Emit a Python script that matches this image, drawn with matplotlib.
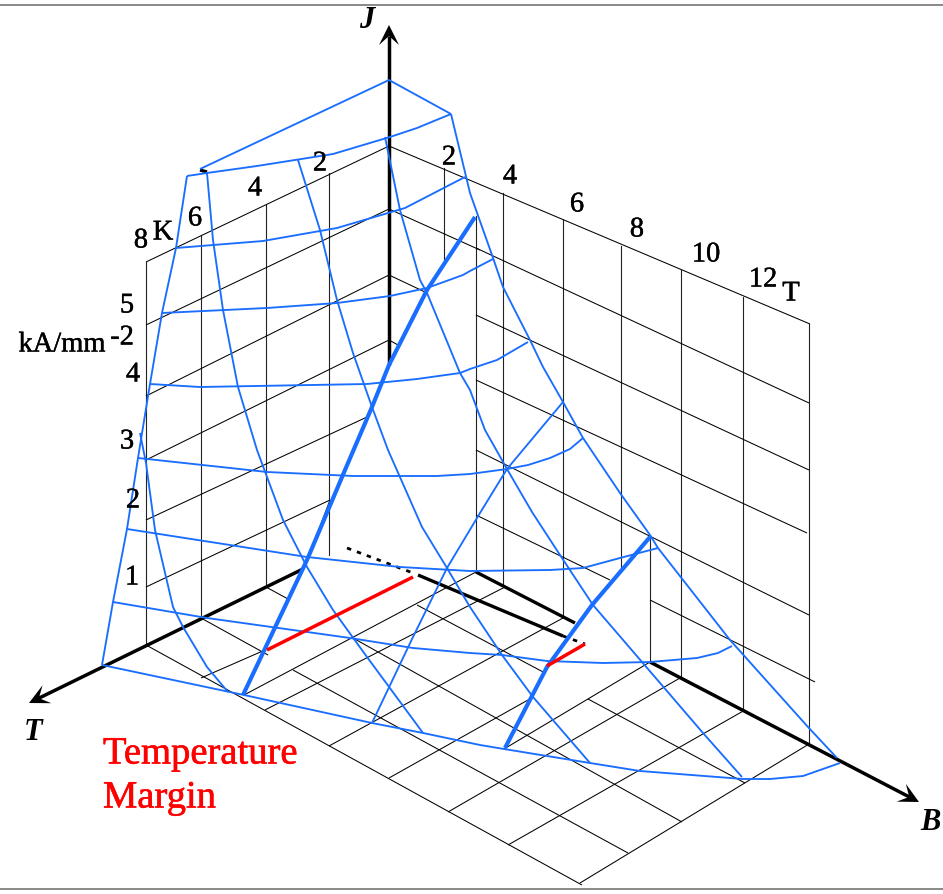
import math
import matplotlib
matplotlib.use('Agg')
import matplotlib.pyplot as plt
import matplotlib.patheffects as pe

BLUE = '#1a6eff'

# back walls, vertical grid lines: x, top, bottom
wall_verticals = [
    (146, 262, 645), (201, 235, 618), (266, 205, 587), (329, 173, 555),
    (444, 168, 260), (476, 216, 572), (503, 193, 587), (563, 220, 617),
    (621, 246, 567), (650, 537, 662), (681, 270, 677), (743, 297, 710),
    (809, 324, 743),
]

# left wall (T-J plane)
left_wall_lines = [
    [(146, 262), (389, 146)], [(146, 325), (389, 209)], [(146, 396), (389, 275)],
    [(146, 460), (389, 340)], [(146, 520), (367, 417)], [(146, 587), (330, 500)],
]

# right wall (B-J plane)
right_wall_lines = [
    [(389, 146), (810, 324)], [(389, 209), (480, 250)], [(476, 248), (809, 403)],
    [(476, 315), (809, 470)], [(476, 380), (807, 533)], [(476, 450), (809, 615)],
    [(476, 515), (610, 580)], [(650, 600), (815, 682)],
    [(389, 275), (425, 292)], [(389, 340), (398, 345)],
]

# thin black edges showing just beside the load line
load_edge_lines = [[(425, 292), (405, 332)], [(330, 500), (310, 553)], [(244, 695), (265, 650)]]

# floor, lines running along B
floor_b_lines = [
    [(146, 645), (582, 885)], [(201, 618), (268, 655)], [(293, 670), (628, 853)],
    [(266, 587), (288, 599)], [(353, 638), (682, 822)], [(417, 605), (545, 673)],
    [(588, 699), (745, 783)],
]

# floor, lines running along T
floor_t_lines = [
    [(244, 695), (476, 572)], [(201, 678), (265, 650)], [(265, 710), (505, 587)],
    [(329, 746), (563, 618)], [(389, 778), (528, 700)], [(504, 749), (650, 662)],
    [(448, 812), (680, 678)], [(508, 845), (745, 710)], [(580, 883), (809, 744)],
]

# critical surface, curves of constant J
j_curves = [
    [(102, 665), (244, 695), (372, 723), (423, 733), (480, 745), (504, 749), (590, 763),
     (640, 771), (743, 779), (770, 779), (803, 776), (840, 763)],
    [(113, 602), (207, 618), (350, 638), (413, 648), (470, 653), (502, 655), (547, 661),
     (603, 663), (650, 662), (697, 658), (718, 653), (732, 646)],
    [(127, 529), (307, 557), (400, 567), (470, 571), (550, 570), (583, 568), (620, 558),
     (658, 548)],
    [(138, 458), (267, 472), (353, 476), (437, 476), (470, 474), (507, 469), (528, 465),
     (550, 458), (570, 449), (583, 438)],
    [(150, 384), (200, 387), (367, 384), (417, 379), (460, 373), (470, 369), (497, 360),
     (528, 342)],
    [(162, 313), (267, 308), (337, 303), (390, 296), (427, 288), (463, 275), (470, 271),
     (493, 259)],
    [(176, 248), (263, 241), (337, 228), (405, 208), (465, 177)],
    [(187, 176), (207, 173), (257, 166), (333, 154), (390, 137), (417, 128), (451, 114)],
]

# critical surface, curves of constant T
t_curves = [
    [(200, 169), (389, 80), (451, 114)],
    [(102, 665), (113, 602), (127, 529), (138, 458), (150, 384), (162, 313), (176, 248),
     (187, 176)],
    [(140, 433), (146, 463), (155, 530), (173, 607), (183, 627), (207, 667), (228, 692)],
    [(207, 173), (213, 240), (223, 310), (238, 387), (257, 450), (283, 520), (307, 567),
     (333, 610), (367, 657), (423, 733)],
    [(298, 160), (320, 230), (337, 300), (353, 353), (372, 407), (388, 450), (422, 527),
     (447, 568), (470, 607), (502, 655), (533, 697), (590, 763)],
    [(385, 137), (400, 210), (420, 280), (427, 293), (460, 373), (470, 390), (485, 430),
     (507, 469), (532, 512), (560, 555), (593, 605), (642, 662), (703, 733), (742, 777)],
    [(451, 114), (470, 193), (492, 255), (503, 287), (530, 340), (543, 367), (563, 402),
     (583, 438), (620, 493), (650, 535), (658, 548), (730, 640), (808, 727), (837, 758)],
    [(563, 402), (507, 469), (480, 513), (447, 568), (413, 637), (372, 723)],
]

# load lines
load_lines = [
    [(475, 217), (427, 290), (389, 365), (372, 407), (345, 470), (307, 560), (243, 695)],
    [(650, 537), (592, 605), (547, 667), (505, 748)],
]

margin_lines = [[(267, 650), (413, 577)], [(547, 666), (585, 644)]]

heavy_axis_lines = [[(476, 572), (575, 623)], [(418, 575), (563, 636)], [(200, 170), (207, 172)]]
dotted_lines = [[(347, 548), (413, 573)], [(563, 636), (585, 644)]]

# axis arrows: tail, tip, name, name position
axis_arrows = [
    ((389, 365), (389, 25), 'J', (367, 21)),
    ((303, 569), (29, 703), 'T', (33, 733)),
    ((650, 662), (919, 802), 'B', (930, 822)),
]

# tick labels: text, x, y
t_ticks = [('8', 141, 241), ('6', 195, 219), ('4', 255, 189), ('2', 320, 164)]
b_ticks = [('2', 449, 158), ('4', 510, 177), ('6', 577, 205), ('8', 637, 230),
           ('10', 706, 255), ('12', 763, 280)]
j_ticks = [('5', 127, 306), ('4', 133, 375), ('3', 127, 442), ('2', 133, 501), ('1', 132, 578)]
unit_labels = [('K', 163, 233), ('T', 791, 294), ('kA/mm', 62, 345), ('-2', 122, 338)]


def draw_lines(ax, lines, **kw):
    for line in lines:
        xs = [p[0] for p in line]
        ys = [p[1] for p in line]
        ax.plot(xs, ys, solid_capstyle='butt', solid_joinstyle='round', **kw)


def draw_arrow(ax, tail, tip):
    # barbed head like the one in the drawing, sized in pixels
    dx, dy = tip[0] - tail[0], tip[1] - tail[1]
    n = math.hypot(dx, dy)
    ux, uy = dx / n, dy / n
    px, py = -uy, ux
    back, notch, half = 20, 11, 10
    head_x = [tip[0], tip[0] - back * ux + half * px, tip[0] - notch * ux, tip[0] - back * ux - half * px]
    head_y = [tip[1], tip[1] - back * uy + half * py, tip[1] - notch * uy, tip[1] - back * uy - half * py]
    ax.plot([tail[0], tip[0] - notch * ux], [tail[1], tip[1] - notch * uy],
            color='black', lw=2.5, solid_capstyle='butt')
    ax.fill(head_x, head_y, color='black', lw=0)


def main():
    plt.rcParams['font.family'] = ['Liberation Serif', 'DejaVu Serif']
    fig = plt.figure(figsize=(9.43, 8.94), dpi=100)
    ax = fig.add_axes([0, 0, 1, 1])
    ax.set_xlim(0, 943)
    ax.set_ylim(894, 0)
    ax.axis('off')

    # page rules top and bottom
    ax.axhline(5, color='#808080', lw=1.3)
    ax.axhline(889, color='#808080', lw=1.3)

    for x, top, bottom in wall_verticals:
        ax.plot([x, x], [top, bottom], color='#222222', lw=0.8)
    for group in (left_wall_lines, right_wall_lines, load_edge_lines, floor_b_lines, floor_t_lines):
        draw_lines(ax, group, color='black', lw=0.75)

    draw_lines(ax, heavy_axis_lines, color='black', lw=2.4)
    draw_lines(ax, dotted_lines, color='black', lw=2.0, linestyle=(0, (1.6, 2.2)))

    for tail, tip, name, pos in axis_arrows:
        draw_arrow(ax, tail, tip)
        ax.text(pos[0], pos[1], name, fontsize=22, style='italic', weight='bold',
                ha='center', va='center')

    draw_lines(ax, j_curves, color=BLUE, lw=1.35)
    draw_lines(ax, t_curves, color=BLUE, lw=1.35)
    draw_lines(ax, load_lines, color=BLUE, lw=3.0)
    draw_lines(ax, margin_lines, color='#ff0000', lw=2.5)

    heavier = [pe.withStroke(linewidth=0.3, foreground='black')]
    for label, x, y in t_ticks + b_ticks + j_ticks + unit_labels:
        ax.text(x, y, label, fontsize=20.5, ha='center', va='center', color='black',
                path_effects=heavier)

    red_heavier = [pe.withStroke(linewidth=0.4, foreground='#ff0000')]
    ax.text(103, 754, 'Temperature', fontsize=27.8, color='#ff0000', ha='left', va='center',
            path_effects=red_heavier)
    ax.text(103, 798, 'Margin', fontsize=27.8, color='#ff0000', ha='left', va='center',
            path_effects=red_heavier)

    fig.savefig('out.png', dpi=100)


if __name__ == "__main__":
    main()
